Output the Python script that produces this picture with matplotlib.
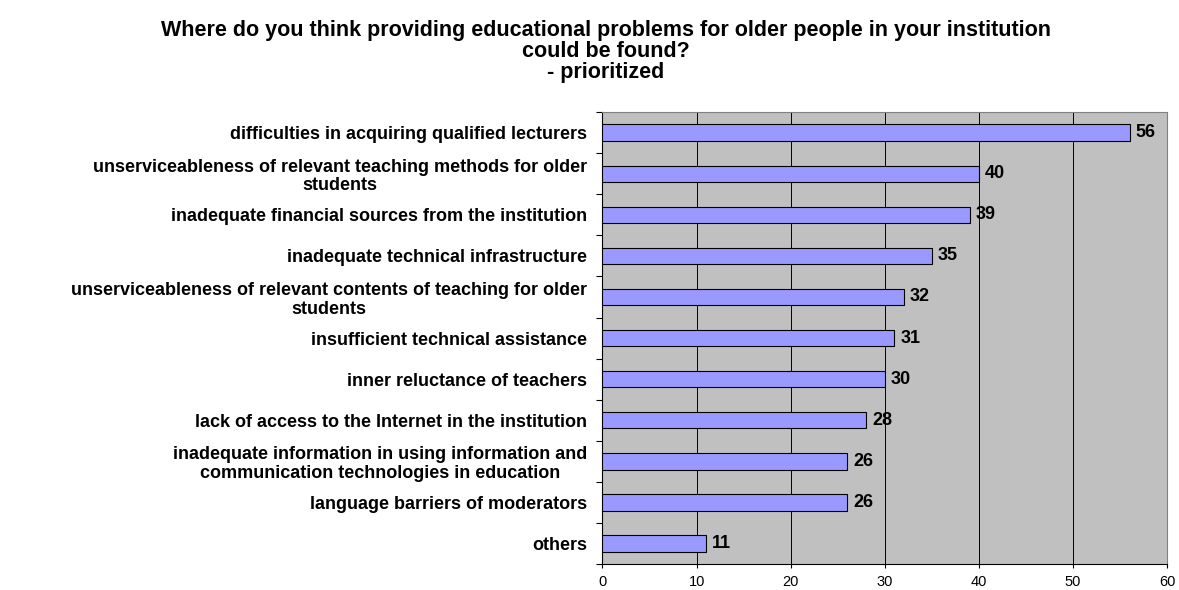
import matplotlib.pyplot as plt
import numpy as np

plt.rcParams['font.family'] = ['Liberation Sans', 'DejaVu Sans']

categories = [
    'difficulties in acquiring qualified lecturers',
    'unserviceableness of relevant teaching methods for older\nstudents',
    'inadequate financial sources from the institution',
    'inadequate technical infrastructure',
    'unserviceableness of relevant contents of teaching for older\nstudents',
    'insufficient technical assistance',
    'inner reluctance of teachers',
    'lack of access to the Internet in the institution',
    'inadequate information in using information and\ncommunication technologies in education',
    'language barriers of moderators',
    'others',
]
values = [56, 40, 39, 35, 32, 31, 30, 28, 26, 26, 11]
x_ticks = [0, 10, 20, 30, 40, 50, 60]

fig = plt.figure(figsize=(11.79, 5.90), dpi=100)
ax = fig.add_axes([0.511, 0.044, 0.479, 0.766])

n = len(values)
ypos = np.arange(n)[::-1]

ax.set_facecolor('#C0C0C0')
ax.barh(ypos, values, height=0.4, color='#9999FF', edgecolor='black',
        linewidth=0.8, zorder=3)

for y, v in zip(ypos, values):
    ax.text(v + 0.65, y, str(v), va='center', ha='left', fontsize=13,
            fontweight='bold', zorder=4)

ax.set_xlim(0, 60)
ax.set_ylim(-0.5, n - 0.5)
ax.set_xticks(x_ticks)
ax.tick_params(axis='x', labelsize=10.5, length=3, direction='out', pad=5)
ax.xaxis.grid(True, color='black', linewidth=0.7, zorder=1)

# category ticks sit between bars, labels at bar centres
ax.set_yticks(np.arange(n + 1) - 0.5)
ax.set_yticklabels([])
ax.tick_params(axis='y', which='major', length=4, direction='out')
ax.set_yticks(ypos, minor=True)
ax.set_yticklabels(categories, minor=True, fontsize=13, fontweight='bold',
                   multialignment='center', linespacing=1.12)
ax.tick_params(axis='y', which='minor', length=0, pad=11)

for side in ['top', 'right']:
    ax.spines[side].set_color('#808080')
for side in ['left', 'bottom']:
    ax.spines[side].set_color('black')

fig.text(0.514, 0.966,
         'Where do you think providing educational problems for older people in your institution\n'
         'could be found?\n- prioritized',
         ha='center', va='top', fontsize=15.5, fontweight='bold',
         linespacing=1.0)

fig.savefig('out.png', dpi=100)
